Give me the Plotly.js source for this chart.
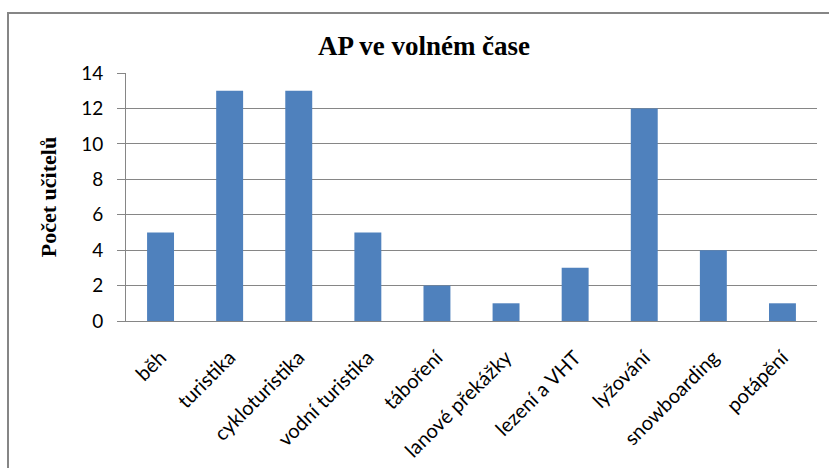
<!DOCTYPE html>
<html>
<head>
<meta charset="utf-8">
<script src="https://cdn.plot.ly/plotly-3.0.1.min.js"></script>
<style>html,body{margin:0;padding:0;background:#fff;}#chart{width:829px;height:468px;}</style>
</head>
<body>
<div id="chart"></div>
<script>
const categories = ["běh","turistika","cykloturistika","vodní turistika","táboření","lanové překážky","lezení a VHT","lyžování","snowboarding","potápění"];
const values = [5,13,13,5,2,1,3,12,4,1];
const yTicks = [0,2,4,6,8,10,12,14];
const chartTitle = "AP ve volném čase";
const yTitle = "Počet učitelů";

const W = 829, H = 468;
const L = 126, R = 12, T = 73, B = 147;
const pw = W - L - R, ph = H - T - B;
const px = x => (x - L) / pw;
const py = y => (H - B - y) / ph;

Plotly.newPlot('chart', [{
  type: 'bar',
  x: categories,
  y: values,
  marker: {color: '#4F81BD', line: {color: '#4A7EBB', width: 0}},
  hoverinfo: 'skip'
}], {
  width: W, height: H,
  margin: {l: L, r: R, t: T, b: B, pad: 0},
  paper_bgcolor: '#fff', plot_bgcolor: '#fff',
  bargap: 0.61,
  showlegend: false,
  title: {text: '<b>' + chartTitle + '</b>', x: 424 / W, xanchor: 'center', xref: 'container', y: 1 - 46 / H, yanchor: 'middle', yref: 'container',
          font: {family: 'Liberation Serif, Times New Roman, serif', size: 27, color: '#000'}},
  xaxis: {
    tickangle: -45,
    tickfont: {family: 'Lato, Open Sans, sans-serif', size: 20, color: '#000'},
    showline: true, linecolor: '#868686', linewidth: 1,
    ticks: 'outside', ticklen: 16, tickcolor: 'rgba(255,255,255,0)', showgrid: false, fixedrange: true
  },
  yaxis: {
    range: [0, 14], tickvals: yTicks, ticktext: yTicks.map(String),
    tickfont: {family: 'Lato, Open Sans, sans-serif', size: 19, color: '#000'},
    ticks: 'outside', ticklen: 8, tickcolor: '#868686', tickwidth: 1,
    showline: true, linecolor: '#868686', linewidth: 1,
    showgrid: true, gridcolor: '#868686', gridwidth: 1,
    zeroline: false, ticklabelstandoff: 10,
    title: {text: '<b>' + yTitle + '</b>', standoff: 18,
            font: {family: 'Liberation Serif, Times New Roman, serif', size: 22, color: '#000'}},
    fixedrange: true
  },
  shapes: [{
    type: 'rect', xref: 'paper', yref: 'paper',
    x0: px(8), x1: px(W + 20), y0: py(13), y1: py(H + 20),
    line: {color: '#868686', width: 2}, fillcolor: 'rgba(0,0,0,0)', layer: 'below'
  }]
}, {displayModeBar: false, staticPlot: true});
</script>
</body>
</html>
